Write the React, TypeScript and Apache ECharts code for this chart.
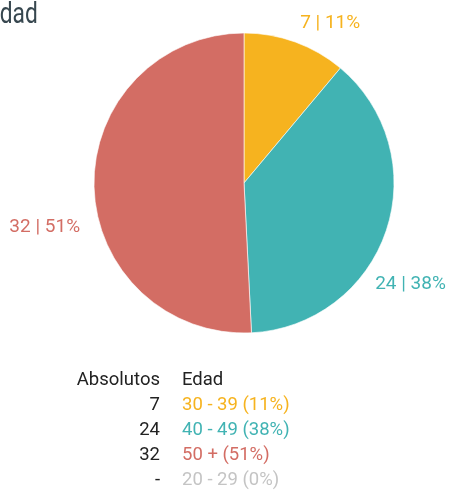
import React, { useEffect, useRef } from "react";
import * as echarts from "echarts";

const titleText = "Edad";
const categories = ["30 - 39", "40 - 49", "50 +", "20 - 29"];
const counts = [7, 24, 32, 0];
const colors = ["#F6B31F", "#41B3B3", "#D36D64", "#C4C4C4"];
const headerLeft = "Absolutos";
const headerRight = "Edad";

// label nudges (layout only)
const labelShift: [number, number][] = [
  [-7, -2],
  [-35, 45],
  [11, 38],
];

export default function App() {
  const ref = useRef<HTMLDivElement>(null);
  useEffect(() => {
    if (!ref.current) return;
    const chart = echarts.init(ref.current, null, { renderer: "svg" });
    const total = counts.reduce((a, b) => a + b, 0);
    const pct = (v: number) => Math.round((v / total) * 100);
    const pieData = categories
      .map((c, i) => ({ name: c, value: counts[i], color: colors[i], idx: i }))
      .filter((d) => d.value > 0)
      .map((d) => ({
        name: d.name,
        value: d.value,
        itemStyle: { color: d.color },
        label: { color: d.color },
      }));

    const font = "Roboto";
    const rowY0 = 379;
    const rowGap = 25;
    const colNumX = 160;
    const colCatX = 182;
    const tableTexts: any[] = [
      {
        type: "text",
        x: colNumX,
        y: rowY0,
        style: { text: headerLeft, fill: "#222", font: `18.5px ${font}`, textAlign: "right", textVerticalAlign: "middle" },
      },
      {
        type: "text",
        x: colCatX,
        y: rowY0,
        style: { text: headerRight, fill: "#222", font: `18.5px ${font}`, textAlign: "left", textVerticalAlign: "middle" },
      },
    ];
    categories.forEach((c, i) => {
      const y = rowY0 + rowGap * (i + 1);
      tableTexts.push({
        type: "text",
        x: colNumX,
        y,
        style: {
          text: counts[i] > 0 ? String(counts[i]) : "-",
          fill: "#222",
          font: `18.5px ${font}`,
          textAlign: "right",
          textVerticalAlign: "middle",
        },
      });
      tableTexts.push({
        type: "text",
        x: colCatX,
        y,
        style: {
          text: `${c} (${pct(counts[i])}%)`,
          fill: colors[i],
          font: `18.5px ${font}`,
          textAlign: "left",
          textVerticalAlign: "middle",
        },
      });
    });

    chart.setOption({
      animation: false,
      graphic: [
        {
          type: "text",
          x: -13,
          y: 13,
          scaleX: 0.76,
          style: {
            text: titleText,
            fill: "#37474F",
            font: `30px Roboto`,
            textVerticalAlign: "middle",
          },
        },
        ...tableTexts,
      ],
      series: [
        {
          type: "pie",
          center: [244, 183],
          radius: 150,
          startAngle: 90,
          clockwise: true,
          avoidLabelOverlap: false,
          itemStyle: { borderColor: "rgba(255,255,255,0.6)", borderWidth: 1 },
          label: {
            show: true,
            position: "outside",
            fontFamily: font,
            fontSize: 19,
            formatter: (p: any) => `${p.value} | ${Math.round(p.percent)}%`,
          },
          labelLine: { show: false, length: 20, length2: 0 },
          labelLayout: (params: any) => {
            const s = labelShift[params.dataIndex] || [0, 0];
            return { dx: s[0], dy: s[1] };
          },
          emphasis: { disabled: true },
          data: pieData,
        },
      ],
    });
    return () => chart.dispose();
  }, []);
  return (
    <div
      ref={ref}
      style={{ position: "fixed", left: 0, top: 0, width: 454, height: 491 }}
    />
  );
}
